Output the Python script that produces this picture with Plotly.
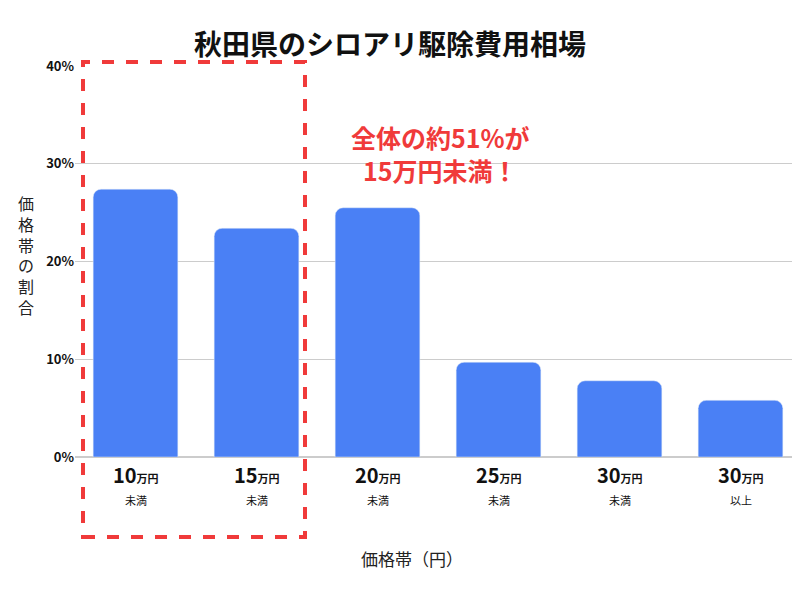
import plotly.graph_objects as go

cats = ["10万円未満", "15万円未満", "20万円未満", "25万円未満", "30万円未満", "30万円以上"]
nums = ["10", "15", "20", "25", "30", "30"]
subs = ["未満", "未満", "未満", "未満", "未満", "以上"]
values = [0.274, 0.234, 0.255, 0.097, 0.078, 0.058]
yticks = [0, 0.1, 0.2, 0.3, 0.4]
yticklabels = ["0%", "10%", "20%", "30%", "40%"]

F = "Noto Sans CJK JP"
fig = go.Figure(go.Bar(x=cats, y=values, marker=dict(color="#4a80f5", cornerradius=8), width=0.7))

O = 8  # page offset
L, T = 75 - O, 66 - O
W, H = 726, 391
R, B = 800 - L - W, 600 - T - H
def px(x): return (x - O - L) / W
def py(y): return (T + H - (y - O)) / H

ann = []
for c, n, s in zip(cats, nums, subs):
    ann.append(dict(x=c, y=py(491), xref="x", yref="paper", showarrow=False,
                    text=f"<b><span style='font-size:20px'>{n}</span><span style='font-size:11px'>万円</span></b>",
                    font=dict(family=F, size=20, color="#111")))
    ann.append(dict(x=c, y=py(510), xref="x", yref="paper", showarrow=False,
                    text=s, font=dict(family=F, size=11, color="#111")))
ann.append(dict(x=px(440), y=py(117), xref="paper", yref="paper", showarrow=False,
                text="<b>全体の約51%が<br>15万円未満！</b>", align="center",
                font=dict(family=F, size=25, color="#f03a3a")))
ann.append(dict(x=px(16), y=py(255), xref="paper", yref="paper", showarrow=False,
                text="<br>".join("価格帯の割合"), font=dict(family=F, size=16, color="#222")))
ann.append(dict(x=px(412), y=py(573), xref="paper", yref="paper", showarrow=False,
                text="価格帯（円）", font=dict(family=F, size=17, color="#222")))
ann.append(dict(x=px(390), y=py(21), xref="paper", yref="paper", showarrow=False,
                text="<b>秋田県のシロアリ駆除費用相場</b>", font=dict(family=F, size=28, color="#111")))

fig.update_layout(
    width=800, height=600, margin=dict(l=L, r=R, t=T, b=B),
    plot_bgcolor="white", paper_bgcolor="white", showlegend=False,
    annotations=ann,
    shapes=[dict(type="rect", xref="paper", yref="paper", x0=px(83), x1=px(305), y0=py(537), y1=py(62),
                 line=dict(color="#f03a3a", width=4, dash="dash"))],
    xaxis=dict(showticklabels=False, range=[-0.5, 5.5]),
    yaxis=dict(range=[0, 0.4], tickvals=yticks, ticktext=[f"<b>{t}</b>" for t in yticklabels],
               gridcolor="#cccccc", zeroline=True, zerolinecolor="#cccccc",
               tickfont=dict(family=F, size=13, color="#111")),
)
fig.write_html("out.html")
